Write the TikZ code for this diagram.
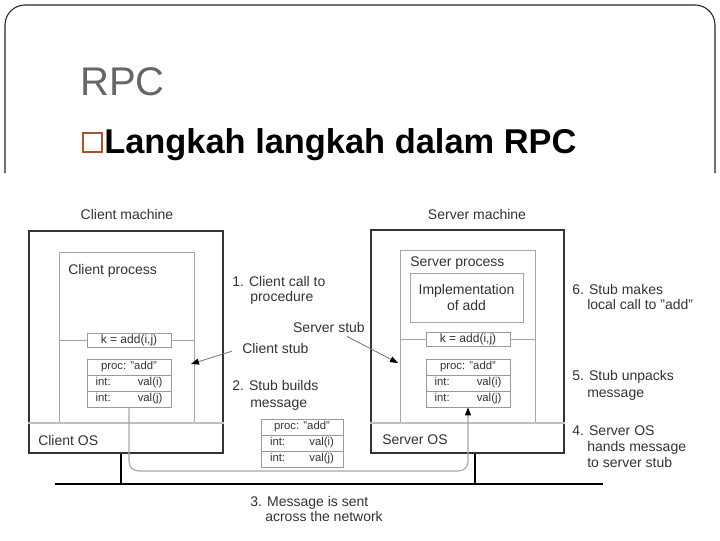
\documentclass[tikz,border=0pt]{standalone}
\usepackage{fontspec}
\setmainfont{Liberation Sans}
\usetikzlibrary{arrows.meta,fit,calc}
\definecolor{bulletc}{HTML}{B0502C}
\tikzset{
  lbl/.style={font=\fontsize{10.5}{12.5}\selectfont, text=black!80, inner sep=0, anchor=base west},
  machine/.style={draw=black!80, line width=1.5pt, inner sep=0},
  procbox/.style={draw=black!35, line width=0.75pt, inner sep=0},
  osline/.style={draw=black!25, line width=1.6pt},
  cell/.style={draw=black!40, line width=0.6pt, inner sep=0, font=\fontsize{8.5}{10}\selectfont, text=black!80, minimum height=12pt},
  netline/.style={draw=black, line width=1.8pt},
  msgline/.style={draw=black!35, line width=0.8pt, rounded corners=7pt, -{Triangle[length=6pt,width=4.5pt,color=black]}},
  ptr/.style={draw=black!55, line width=0.6pt, -{Triangle[length=6pt,width=4.5pt,color=black]}}
}
\begin{document}
\begin{tikzpicture}[x=0.75pt,y=-0.75pt]
\useasboundingbox (0,0) rectangle (720,540);
\fill[white] (0,0) rectangle (720,540);
% slide frame
\draw[black!85, line width=0.8pt, rounded corners=15pt] (5,173) -- (5,5) -- (715,5) -- (715,173);
% title
\node[font=\fontsize{30}{36}\selectfont, text=black!60, anchor=base west, inner sep=0] (title) at (80,95) {RPC};
\node[draw=bulletc, line width=1pt, inner sep=0, fit={(83,133) (102,152)}] (bul) {};
\node[font=\bfseries\fontsize{25.8}{30}\selectfont, anchor=base west, inner sep=0] (sub) at (104,153) {Langkah langkah dalam RPC};

% machines
\node[machine, fit={(29,231) (223,453)}] (cm) {};
\node[machine, fit={(371,230) (564,453)}] (sm) {};
\node[procbox, fit={(59,252) (194,423)}] (cp) {};
\node[procbox, fit={(400,250) (535,423)}] (sp) {};
\coordinate (osy) at (0,423);
\draw[osline] (cm.west |- osy) -- (cm.east |- osy);
\draw[osline] (sm.west |- osy) -- (sm.east |- osy);

\node[lbl, anchor=base] (cmL) at (127,219) {Client machine};
\node[lbl, anchor=base] (smL) at (477,219) {Server machine};
\node[lbl] (cpL) at (68,274) {Client process};
\node[lbl] (spL) at (410,266) {Server process};
\node[lbl] (cosL) at (38,445) {Client OS};
\node[lbl] (sosL) at (382,444) {Server OS};

\node[procbox, fit={(410,273) (523,322)}] (impl) {};
\node[lbl, anchor=center, align=center] (implL) at (impl.center) {Implementation\\of add};

% k = add boxes and divider lines
\node[cell, minimum width=63pt, minimum height=10.5pt, font=\fontsize{9}{10}\selectfont] (ck) at (129,340) {k = add(i,j)};
\node[cell, minimum width=63pt, minimum height=10.5pt, font=\fontsize{9}{10}\selectfont] (sk) at (468,339) {k = add(i,j)};
\draw[procbox] (cp.west |- ck) -- (ck.west);
\draw[procbox] (ck.east) -- (cp.east |- ck);
\draw[procbox] (sp.west |- sk) -- (sk.west);
\draw[procbox] (sk.east) -- (sp.east |- sk);

% client stub
\node[cell, minimum width=63pt] (cs1) at (129,367) {proc: "add"};
\node[cell, minimum width=63pt] (cs2) at (129,383) {\makebox[50pt]{int:\hfill val(i)}};
\node[cell, minimum width=63pt] (cs3) at (129,399) {\makebox[50pt]{int:\hfill val(j)}};
% server stub
\node[cell, minimum width=63pt] (ss1) at (468,367) {proc: "add"};
\node[cell, minimum width=63pt] (ss2) at (468,383) {\makebox[50pt]{int:\hfill val(i)}};
\node[cell, minimum width=63pt] (ss3) at (468,399) {\makebox[50pt]{int:\hfill val(j)}};
% message in transit
\node[cell, minimum width=61.5pt] (m1) at (302,427) {proc: "add"};
\node[cell, minimum width=61.5pt] (m2) at (302,443) {\makebox[48pt]{int:\hfill val(i)}};
\node[cell, minimum width=61.5pt] (m3) at (302,459) {\makebox[48pt]{int:\hfill val(j)}};

% network
\coordinate (nL) at (55,484);
\coordinate (nR) at (603,484);
\coordinate (cd) at (121,484);
\coordinate (sd) at (475,484);
\draw[netline] (nL) -- (nR);
\draw[netline] (cm.south -| cd) -- (cd);
\draw[netline] (sm.south -| sd) -- (sd);

% message path
\coordinate (mh) at (300,471);
\draw[msgline] (cs3.south) |- (mh) -| (ss3.south);

% step labels
\node[lbl] (s1a) at (232,286) {1. Client call to};
\node[lbl] (s1b) at (250,301) {procedure};
\node[lbl, anchor=base east] (sst) at (365,332) {Server stub};
\node[lbl] (cst) at (242,353) {Client stub};
\node[lbl] (s2a) at (232,390) {2. Stub builds};
\node[lbl] (s2b) at (250,407) {message};
\node[lbl] (s3a) at (250,506) {3. Message is sent};
\node[lbl] (s3b) at (265,521) {across the network};
\node[lbl] (s6a) at (572,294) {6. Stub makes};
\node[lbl] (s6b) at (587,309) {local call to "add"};
\node[lbl] (s5a) at (572,380) {5. Stub unpacks};
\node[lbl] (s5b) at (587,397) {message};
\node[lbl] (s4a) at (572,435) {4. Server OS};
\node[lbl] (s4b) at (587,451) {hands message};
\node[lbl] (s4c) at (587,467) {to server stub};

% stub pointers
\coordinate (cstip) at (191,364);
\coordinate (sstip) at (398,363);
\draw[ptr, shorten <=8pt] (cst.west) -- (cstip);
\draw[ptr] ($(sst.south east)+(-18,4)$) -- (sstip);
\end{tikzpicture}
\end{document}
